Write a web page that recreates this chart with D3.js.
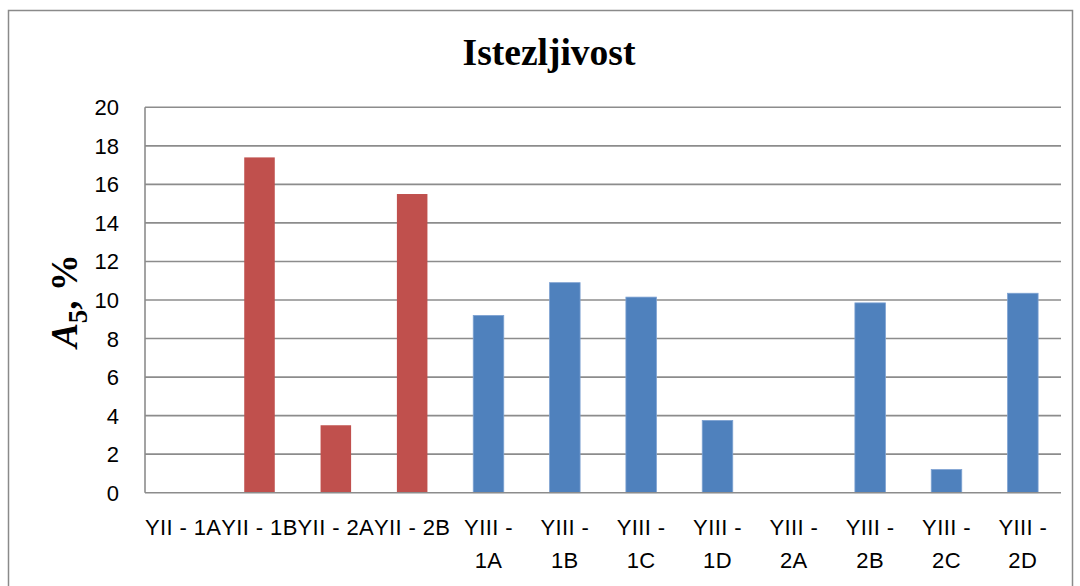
<!DOCTYPE html>
<html>
<head>
<meta charset="utf-8">
<script src="https://cdn.jsdelivr.net/npm/d3@7"></script>
<style>
  html, body { margin: 0; padding: 0; background: #fff; }
  svg { display: block; }
</style>
</head>
<body>
<svg id="chart" width="1080" height="586"></svg>
<script>
const categories = ["YII - 1A", "YII - 1B", "YII - 2A", "YII - 2B",
  "YIII - 1A", "YIII - 1B", "YIII - 1C", "YIII - 1D",
  "YIII - 2A", "YIII - 2B", "YIII - 2C", "YIII - 2D"];
const seriesYII = [0, 17.4, 3.5, 15.5, null, null, null, null, null, null, null, null];
const seriesYIII = [null, null, null, null, 9.2, 10.9, 10.15, 3.75, 0, 9.85, 1.2, 10.35];
const yTicks = [0, 2, 4, 6, 8, 10, 12, 14, 16, 18, 20];
const titleText = "Istezljivost";

const colors = { YII: "#C0504D", YIII: "#4F81BD" };

const svg = d3.select("#chart");
const plot = { left: 145, right: 1061, top: 107.3, bottom: 492.7 };

// outer chart border
svg.append("rect")
  .attr("x", 8.5).attr("y", 10.5)
  .attr("width", 1064).attr("height", 600)
  .attr("fill", "none").attr("stroke", "#8a8a8a").attr("stroke-width", 1.5);

const x = d3.scaleBand().domain(categories)
  .range([plot.left, plot.right]).paddingInner(0.6).paddingOuter(0.3);
const y = d3.scaleLinear().domain([0, 20]).range([plot.bottom, plot.top]);

// gridlines
svg.append("g").selectAll("line").data(yTicks.filter(d => d > 0)).join("line")
  .attr("x1", plot.left).attr("x2", plot.right)
  .attr("y1", d => y(d)).attr("y2", d => y(d))
  .attr("stroke", "#8c8c8c").attr("stroke-width", 1.6);

// bars
const series = [
  { key: "YII", values: seriesYII },
  { key: "YIII", values: seriesYIII }
];
series.forEach(s => {
  const data = categories.map((c, i) => ({ c, v: s.values[i] })).filter(d => d.v != null && d.v > 0);
  svg.append("g").selectAll("rect").data(data).join("rect")
    .attr("x", d => x(d.c))
    .attr("width", x.bandwidth())
    .attr("y", d => y(d.v))
    .attr("height", d => y(0) - y(d.v))
    .attr("fill", colors[s.key])
    .attr("stroke", s.key === "YIII" ? "#7ea2d2" : "none")
    .attr("stroke-width", s.key === "YIII" ? 0.8 : 0);
});

// axis lines
svg.append("line").attr("x1", plot.left).attr("x2", plot.left)
  .attr("y1", plot.top).attr("y2", plot.bottom)
  .attr("stroke", "#8c8c8c").attr("stroke-width", 1.6);
svg.append("line").attr("x1", plot.left).attr("x2", plot.right)
  .attr("y1", plot.bottom).attr("y2", plot.bottom)
  .attr("stroke", "#8c8c8c").attr("stroke-width", 1.6);

// y tick labels
svg.append("g").selectAll("text").data(yTicks).join("text")
  .attr("x", 119).attr("y", d => y(d) + 8)
  .attr("text-anchor", "end")
  .attr("font-family", "'Liberation Sans', Arial, sans-serif")
  .attr("font-size", 22).attr("fill", "#000")
  .text(d => d);

// x labels (wrapped like Excel)
const xl = svg.append("g");
categories.forEach((c, i) => {
  const cx = x(c) + x.bandwidth() / 2;
  const t = xl.append("text")
    .attr("text-anchor", "middle")
    .attr("font-family", "'Liberation Sans', Arial, sans-serif")
    .attr("font-size", 22).attr("fill", "#000")
    .attr("letter-spacing", 0.4);
  if (c.startsWith("YIII")) {
    const parts = c.split(" - ");
    t.append("tspan").attr("x", cx).attr("y", 535).text(parts[0] + " -");
    t.append("tspan").attr("x", cx).attr("y", 568).text(parts[1]);
  } else {
    t.attr("x", cx).attr("y", 535).text(c);
  }
});

// title
svg.append("text")
  .attr("x", 549).attr("y", 65)
  .attr("text-anchor", "middle")
  .attr("font-family", "'Liberation Serif', 'Times New Roman', serif")
  .attr("font-weight", "bold").attr("font-size", 37.5)
  .text(titleText);

// y axis label
const yl = svg.append("text")
  .attr("transform", "translate(77,301) rotate(-90)")
  .attr("text-anchor", "middle")
  .attr("font-family", "'Liberation Serif', 'Times New Roman', serif")
  .attr("font-weight", "bold").attr("font-size", 37);
yl.append("tspan").attr("font-style", "italic").text("A");
yl.append("tspan").attr("font-size", 27).attr("dy", 10).text("5");
yl.append("tspan").attr("dy", -10).text(", %");
</script>
</body>
</html>
